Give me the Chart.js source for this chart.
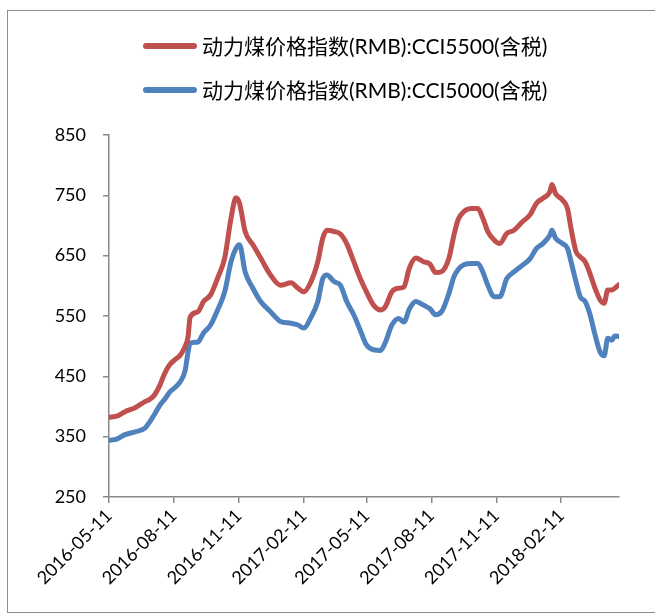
<!DOCTYPE html>
<html>
<head>
<meta charset="utf-8">
<script src="https://cdn.jsdelivr.net/npm/chart.js@4.4.1/dist/chart.umd.min.js"></script>
<style>
  html, body { margin: 0; padding: 0; background: #fff; }
  #wrap { width: 655px; height: 616px; position: relative; }
</style>
</head>
<body>
<div id="wrap"><canvas id="coalChart"></canvas></div>
<script>
'use strict';

// ===== DATA =====
const START = '2016-05-11';
// days after START
const days = [0, 11, 22, 37, 51, 58, 65, 72, 79, 86, 94, 101, 108, 112, 115, 126, 134, 144, 154, 164,
    173, 180, 185, 193, 204, 215, 229, 243, 258, 268, 276, 286, 296, 303, 309, 319, 328, 337, 347, 357,
    365, 375, 385, 392, 401, 411, 418, 426, 435, 446, 455, 463, 472, 482, 489, 495, 503, 514, 523, 530,
    537, 546, 554, 564, 574, 585, 597, 606, 615, 625, 628, 633, 643, 650, 655, 662, 668, 675, 682, 689,
    696, 702, 707, 713, 717, 723];
const cci5500 = [382, 384, 391, 398, 408, 412, 420, 435, 455, 469, 478, 485, 500, 515, 548, 557, 574, 585, 613, 646,
    712, 746, 737, 690, 668, 646, 618, 601, 605, 596, 590, 606, 640, 679, 692, 690, 686, 670, 640, 610,
    590, 568, 560, 566, 590, 596, 598, 630, 646, 640, 636, 622, 624, 646, 684, 710, 723, 728, 728, 712,
    690, 676, 670, 687, 692, 705, 718, 737, 745, 756, 768, 753, 742, 728, 695, 657, 648, 640, 620, 596,
    577, 571, 593, 593, 596, 602];
const cci5000 = [344, 346, 353, 358, 364, 375, 388, 402, 412, 424, 432, 441, 460, 490, 505, 507, 522, 535, 560, 590,
    640, 662, 668, 623, 596, 574, 557, 541, 538, 535, 530, 547, 574, 612, 618, 607, 601, 574, 552, 524,
    502, 494, 493, 507, 535, 546, 540, 562, 574, 568, 562, 552, 558, 588, 615, 627, 635, 637, 637, 623,
    601, 582, 582, 612, 623, 633, 645, 662, 670, 684, 692, 679, 670, 662, 640, 607, 582, 574, 552, 519,
    491, 484, 513, 510, 517, 516];
const tickDates = ['2016-05-11', '2016-08-11', '2016-11-11', '2017-02-11', '2017-05-11',
    '2017-08-11', '2017-11-11', '2018-02-11'];
const seriesNames = ['动力煤价格指数(RMB):CCI5500(含税)', '动力煤价格指数(RMB):CCI5000(含税)'];

const RED = '#C0504D', BLUE = '#4F81BD', AXIS = '#898989';
const AXIS_FONT = { family: 'Lato, "Noto Sans CJK SC", sans-serif', size: 18 };

function dayOf(s) { return Math.round((Date.parse(s) - Date.parse(START)) / 86400000); }
const tickDays = tickDates.map(dayOf);

// frame + two-row legend, drawn like the Excel original
const frameLegend = {
    id: 'frameLegend',
    beforeDraw(chart) {
        const { ctx } = chart;
        ctx.save();
        ctx.fillStyle = '#fff';
        ctx.fillRect(0, 0, chart.width, chart.height);
        ctx.strokeStyle = '#8c8c8c'; ctx.lineWidth = 1;
        ctx.strokeRect(7.5, 10.5, 700, 602);
        ctx.restore();
    },
    afterDraw(chart) {
        const { ctx } = chart;
        ctx.save();
        ctx.font = '21px Lato, "Noto Sans CJK SC", sans-serif';
        ctx.textBaseline = 'middle';
        chart.data.datasets.forEach((ds, i) => {
            const y = 46 + i * 44;
            ctx.strokeStyle = ds.borderColor; ctx.lineWidth = 6; ctx.lineCap = 'round';
            ctx.beginPath(); ctx.moveTo(146, y); ctx.lineTo(194, y); ctx.stroke();
            ctx.fillStyle = '#000';
            ctx.fillText(ds.label, 202, y + 1);
        });
        ctx.restore();
    }
};

new Chart(document.getElementById('coalChart'), {
    type: 'line',
    data: {
        datasets: [
            { label: seriesNames[0], data: days.map((d, i) => ({ x: d, y: cci5500[i] })), borderColor: RED },
            { label: seriesNames[1], data: days.map((d, i) => ({ x: d, y: cci5000[i] })), borderColor: BLUE },
        ].map(ds => Object.assign(ds, {
            borderWidth: 5, pointRadius: 0, cubicInterpolationMode: 'monotone',
            borderJoinStyle: 'round', borderCapStyle: 'round', fill: false,
        }))
    },
    options: {
        responsive: true, maintainAspectRatio: false, animation: false,
        layout: { padding: { left: 0, right: 36, top: 135, bottom: 0 } },
        plugins: { legend: { display: false }, tooltip: { enabled: false } },
        scales: {
            x: {
                type: 'linear', min: 0, max: 723,
                afterBuildTicks: scale => { scale.ticks = tickDays.map(v => ({ value: v })); },
                afterFit: scale => { scale.height = 119; },
                ticks: {
                    autoSkip: false, minRotation: 45, maxRotation: 45, padding: 2,
                    color: '#000', font: AXIS_FONT,
                    callback: (v, i) => tickDates[i],
                },
                grid: { drawOnChartArea: false, drawTicks: true, tickLength: 6, color: AXIS, lineWidth: 1.5 },
                border: { display: true, color: AXIS, width: 1.5 },
            },
            y: {
                min: 250, max: 850,
                afterFit: scale => { scale.width = 109; },
                ticks: { stepSize: 100, padding: 17, color: '#000', font: AXIS_FONT },
                grid: { drawOnChartArea: false, drawTicks: true, tickLength: 6, color: AXIS, lineWidth: 1.5 },
                border: { display: true, color: AXIS, width: 1.5 },
            }
        }
    },
    plugins: [frameLegend]
});
</script>
</body>
</html>
